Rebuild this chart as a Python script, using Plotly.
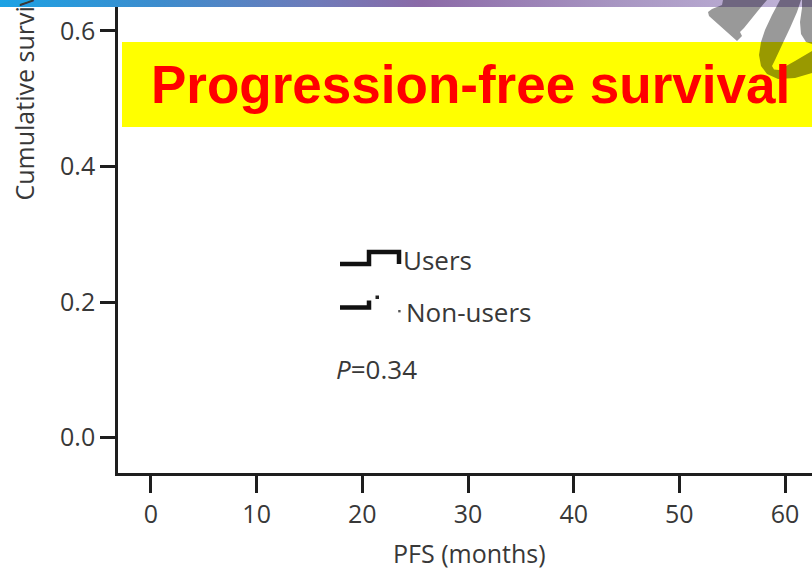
import plotly.graph_objects as go

# ---- chart content ----
x_ticks = [0, 10, 20, 30, 40, 50, 60]
y_ticks = [0.0, 0.2, 0.4, 0.6]
y_tick_text = ["0.0", "0.2", "0.4", "0.6"]
groups = ["Users", "Non-users"]
p_value = 0.34
title_text = "Progression-free survival"
x_title = "PFS (months)"
y_title = "Cumulative survival"

W, H = 812, 571
TXT = "#383838"
FONT = "Open Sans"

# header gradient stops (position along the width, colour)
bar_scale = [
    [0.00, "rgb(28,162,228)"],
    [0.20, "rgb(62,140,205)"],
    [0.39, "rgb(111,123,185)"],
    [0.52, "rgb(139,106,167)"],
    [0.64, "rgb(154,128,181)"],
    [0.76, "rgb(168,150,194)"],
    [1.00, "rgb(194,182,218)"],
]

# plot area in pixels
left_px, bottom_px = 118.2, 473.2
x_range = [-3.10, 62.55]
y_range = [-0.0524, 0.6457]

fig = go.Figure()

# empty survival axes (no curves plotted)
fig.add_trace(go.Scatter(x=[None], y=[None], mode="markers", hoverinfo="skip",
                         showlegend=False, xaxis="x", yaxis="y"))

# header strip (drawn on a pixel-space overlay axis)
fig.add_trace(go.Scatter(
    x=[0, W, W, 0, 0], y=[0, 0, 7, 7, 0], fill="toself", mode="lines",
    line=dict(width=0), fillgradient=dict(type="horizontal", colorscale=bar_scale),
    hoverinfo="skip", showlegend=False, xaxis="x2", yaxis="y2"))

axis_common = dict(
    showgrid=False, zeroline=False, showline=True, linewidth=3, linecolor="#1e1e1e",
    ticks="outside", tickwidth=3, tickcolor="#1e1e1e",
    tickfont=dict(family=FONT, size=25, color=TXT),
)
fig.update_layout(
    width=W, height=H, autosize=False,
    margin=dict(l=0, r=0, t=0, b=0),
    paper_bgcolor="white", plot_bgcolor="rgba(0,0,0,0)",
    showlegend=False,
    xaxis=dict(domain=[left_px / W, 1], range=x_range, tickvals=x_ticks,
               ticklen=17, anchor="y", **axis_common),
    yaxis=dict(domain=[(H - bottom_px) / H, 1], range=y_range, tickvals=y_ticks,
               ticktext=y_tick_text, ticklen=15, anchor="x", **axis_common),
    xaxis2=dict(domain=[0, 1], range=[0, W], visible=False, anchor="y2"),
    yaxis2=dict(domain=[0, 1], range=[H, 0], visible=False, anchor="x2"),
)

shapes = []
# yellow title banner
shapes.append(dict(type="rect", xref="x2", yref="y2", x0=122, x1=W, y0=42, y1=127,
                   fillcolor="#ffff00", line=dict(width=0), layer="above"))


# decorative clip mark in the top-right corner, shaded by the band it sits on
def clip_band(poly, y0, y1):
    def clip(pts, keep, yc):
        out = []
        for i in range(len(pts)):
            cur, prev = pts[i], pts[i - 1]
            def cut(p, q):
                t = (yc - p[1]) / (q[1] - p[1])
                return (p[0] + t * (q[0] - p[0]), yc)
            if keep(cur):
                if not keep(prev):
                    out.append(cut(prev, cur))
                out.append(cur)
            elif keep(prev):
                out.append(cut(prev, cur))
        return out
    pts = clip(poly, lambda p: p[1] >= y0, y0)
    if pts:
        pts = clip(pts, lambda p: p[1] <= y1, y1)
    return pts


mark_a = [(723, 0), (767, 0), (761, 7), (744, 28), (740, 32), (742, 36), (737, 41),
          (709, 16), (708, 12), (712, 9), (722, 5)]
mark_b = [(780, 0), (772, 15), (765, 30), (761, 42), (759, 55), (761, 66), (767, 74),
          (778, 79), (795, 78), (812, 73), (812, 51), (795, 61), (779, 70), (774, 69.5),
          (772, 66), (775, 60), (782, 45), (790, 28), (797, 12), (801, 0)]
mark_c = [(802, 0), (812, 0), (812, 44), (806, 42), (801, 34), (800, 22), (802, 8)]
bands = [(0, 7, "#6f6680"), (7, 42, "#999999"), (42, 127, "#999900")]
for poly in (mark_a, mark_b, mark_c):
    for y0, y1, col in bands:
        pts = clip_band(poly, y0, y1)
        if len(pts) >= 3:
            path = "M " + " L ".join(f"{x:.1f},{y:.1f}" for x, y in pts) + " Z"
            shapes.append(dict(type="path", xref="x2", yref="y2", path=path,
                               fillcolor=col, line=dict(width=0), layer="above"))

# legend keys (step glyphs)
key_x0, key_w = 340, 29
users_y, non_y = 264, 307.5
shapes.append(dict(type="path", xref="x2", yref="y2", layer="above",
                   path=f"M {key_x0},{users_y} H {key_x0 + key_w} V {users_y - 12} "
                        f"H {key_x0 + key_w + 30} V {users_y}",
                   line=dict(color="#111111", width=4.5)))
shapes.append(dict(type="path", xref="x2", yref="y2", layer="above",
                   path=f"M {key_x0},{non_y} H {key_x0 + key_w} V {non_y - 7}",
                   line=dict(color="#111111", width=4.5)))
shapes.append(dict(type="rect", xref="x2", yref="y2", layer="above",
                   x0=375.5, x1=379, y0=295.5, y1=299, fillcolor="#222222", line=dict(width=0)))
shapes.append(dict(type="rect", xref="x2", yref="y2", layer="above",
                   x0=398.2, x1=400.6, y0=310, y1=312.4, fillcolor="#555555", line=dict(width=0)))
fig.update_layout(shapes=shapes)

ann = []
ann.append(dict(text=f"<b>{title_text}</b>", x=470, y=84.5, xref="x2", yref="y2",
                xanchor="center", yanchor="middle", showarrow=False,
                font=dict(family="Liberation Sans, Arial", size=53, color="#ff0000")))
ann.append(dict(text=groups[0], x=401, y=259.5, xref="x2", yref="y2", xanchor="left",
                yanchor="middle", showarrow=False, font=dict(family=FONT, size=26, color=TXT)))
ann.append(dict(text=groups[1], x=404, y=312, xref="x2", yref="y2", xanchor="left",
                yanchor="middle", showarrow=False, font=dict(family=FONT, size=26, color=TXT)))
ann.append(dict(text=f"<i>P</i>={p_value:.2f}", x=334, y=369, xref="x2", yref="y2",
                xanchor="left", yanchor="middle", showarrow=False,
                font=dict(family=FONT, size=26, color=TXT)))
ann.append(dict(text=x_title, x=469.5, y=553, xref="x2", yref="y2", xanchor="center",
                yanchor="middle", showarrow=False, font=dict(family=FONT, size=25, color=TXT)))
ann.append(dict(text=y_title, x=23, y=203, xref="x2", yref="y2", xanchor="center",
                yanchor="bottom", textangle=-90, showarrow=False,
                font=dict(family=FONT, size=25, color=TXT)))
fig.update_layout(annotations=ann)

fig.write_html("out.html")
